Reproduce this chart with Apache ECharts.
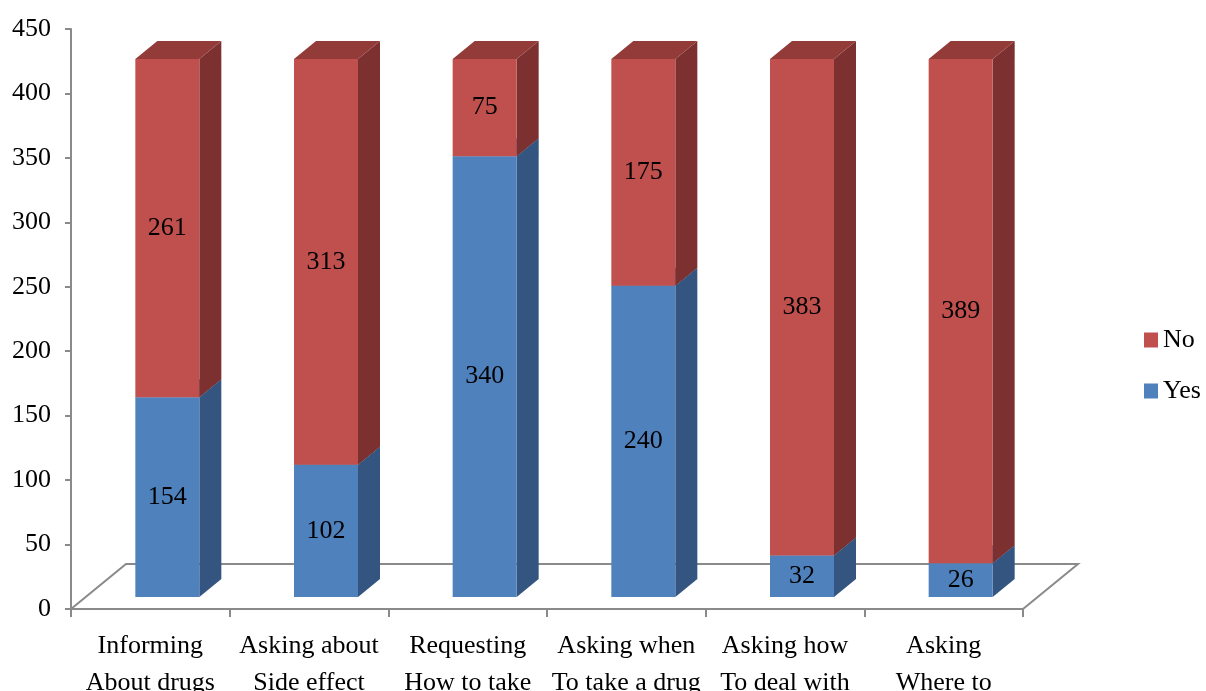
<!DOCTYPE html>
<html>
<head>
<meta charset="utf-8">
<script src="https://cdn.jsdelivr.net/npm/echarts@6/dist/echarts.min.js"></script>
<style>
html,body{margin:0;padding:0;background:#fff;overflow:hidden;}
#chart{width:1206px;height:691px;}
</style>
</head>
<body>
<div id="chart"></div>
<script>
// ---- data ----
const categories = [
  'Informing\nAbout drugs',
  'Asking about\nSide effect',
  'Requesting\nHow to take',
  'Asking when\nTo take a drug',
  'Asking how\nTo deal with',
  'Asking\nWhere to'
];
const yesValues = [154, 102, 340, 240, 32, 26];
const noValues  = [261, 313, 75, 175, 383, 389];
const yMin = 0, yMax = 450, yInterval = 50;
const seriesNames = ['No', 'Yes'];

// ---- style ----
const FONT = "'Liberation Serif', 'Times New Roman', serif";
const GRAY = '#8a8a8a';
const palette = {
  Yes: { front: '#4F81BD', side: '#34557F', top: '#4470A4' },
  No:  { front: '#C0504D', side: '#7C3130', top: '#933B39' }
};
const DX = 22, DY = 18;
const FRONT_L = -15, FRONT_R = 49;
const BASE_LIFT = 12, SCALE = 1.006;

function barRenderer(name) {
  const col = palette[name];
  return function (params, api) {
    const i = api.value(0), lo = api.value(1), hi = api.value(2);
    const c0 = api.coord([i, 0]);
    const cLo = api.coord([i, lo]);
    const cHi = api.coord([i, hi]);
    const yb = c0[1] - BASE_LIFT;
    const yLo = yb - (c0[1] - cLo[1]) * SCALE;
    const yHi = yb - (c0[1] - cHi[1]) * SCALE;
    const xL = c0[0] + FRONT_L, xR = c0[0] + FRONT_R;
    return {
      type: 'group',
      children: [
        { type: 'polygon', shape: { points: [[xR, yLo], [xR + DX, yLo - DY], [xR + DX, yHi - DY], [xR, yHi]] },
          style: { fill: col.side } },
        { type: 'polygon', shape: { points: [[xL, yHi], [xR, yHi], [xR + DX, yHi - DY], [xL + DX, yHi - DY]] },
          style: { fill: col.top } },
        { type: 'rect', shape: { x: xL, y: yHi, width: xR - xL, height: yLo - yHi },
          style: { fill: col.front } },
        { type: 'text', x: (xL + xR) / 2, y: (yLo + yHi) / 2,
          style: { text: String(hi - lo), fill: '#000', font: '26px ' + FONT, align: 'center', verticalAlign: 'middle' } }
      ]
    };
  };
}

function floorRenderer(params, api) {
  const band = api.size([1, 0])[0];
  const first = api.coord([0, 0]);
  const last = api.coord([categories.length - 1, 0]);
  const xL = first[0] - band / 2, xR = last[0] + band / 2, y0 = first[1];
  const fx = 55, fy = 45;
  return {
    type: 'polyline',
    shape: { points: [[xL, y0], [xL + fx, y0 - fy], [xR + fx, y0 - fy], [xR, y0]] },
    style: { stroke: GRAY, lineWidth: 2, fill: null }
  };
}

const yesData = yesValues.map((v, i) => [i, 0, v]);
const noData = noValues.map((v, i) => [i, yesValues[i], yesValues[i] + v]);

const chart = echarts.init(document.getElementById('chart'), null, { renderer: 'canvas' });
chart.setOption({
  animation: false,
  backgroundColor: '#fff',
  textStyle: { fontFamily: FONT },
  grid: { left: 71, right: 183, top: 29, bottom: 82, containLabel: false, outerBoundsMode: 'none' },
  legend: {
    orient: 'vertical',
    left: 1144, top: 325,
    padding: 0,
    data: seriesNames,
    icon: 'rect',
    itemWidth: 14, itemHeight: 15,
    itemGap: 21,
    textStyle: { fontFamily: FONT, fontSize: 26, color: '#000', lineHeight: 30 }
  },
  xAxis: {
    type: 'category',
    data: categories,
    boundaryGap: true,
    axisLine: { lineStyle: { color: GRAY, width: 2 } },
    axisTick: { show: true, length: 8, lineStyle: { color: GRAY, width: 2 } },
    axisLabel: { margin: 19, color: '#000', fontFamily: FONT, fontSize: 26, lineHeight: 37, align: 'center', interval: 0 },
    splitLine: { show: false }
  },
  yAxis: {
    type: 'value',
    min: yMin, max: yMax, interval: yInterval,
    axisLine: { show: true, lineStyle: { color: GRAY, width: 2 } },
    axisTick: { show: true, length: 6, lineStyle: { color: GRAY, width: 2 } },
    axisLabel: { margin: 20, color: '#000', fontFamily: FONT, fontSize: 26 },
    splitLine: { show: false }
  },
  series: [
    { name: 'floor', type: 'custom', renderItem: floorRenderer, data: [[0, 0]], z: 1, silent: true,
      encode: { x: 0, y: 1 } },
    { name: 'Yes', type: 'custom', renderItem: barRenderer('Yes'), data: yesData, z: 2,
      itemStyle: { color: palette.Yes.front }, encode: { x: 0, y: [1, 2] } },
    { name: 'No', type: 'custom', renderItem: barRenderer('No'), data: noData, z: 3,
      itemStyle: { color: palette.No.front }, encode: { x: 0, y: [1, 2] } }
  ]
});
</script>
</body>
</html>
